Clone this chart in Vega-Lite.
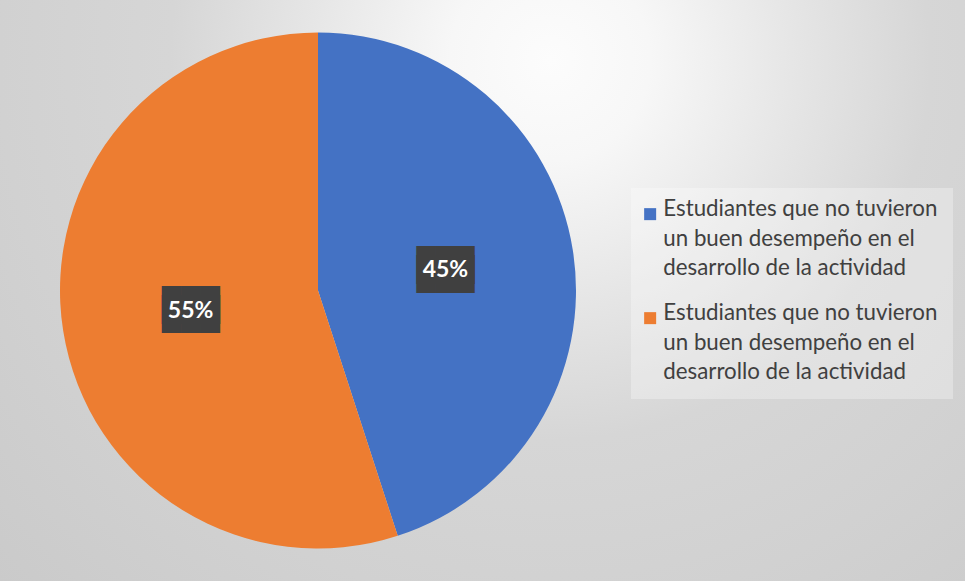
{
  "$schema": "https://vega.github.io/schema/vega-lite/v6.json",
  "autosize": {"type": "pad"},
  "padding": 0,
  "spacing": 0,
  "background": "#d9d9d9",
  "config": {"view": {"stroke": null}},
  "datasets": {
    "fondo": [{"capa": "fondo"}],
    "resultados": [
      {"serie": "A", "categoria": "Estudiantes que no tuvieron un buen desempeño en el desarrollo de la actividad", "proporcion": 0.45},
      {"serie": "B", "categoria": "Estudiantes que no tuvieron un buen desempeño en el desarrollo de la actividad", "proporcion": 0.55}
    ]
  },
  "hconcat": [
    {
      "width": 636,
      "height": 581,
      "layer": [
        {
          "data": {"name": "fondo"},
          "mark": {
            "type": "rect",
            "color": {"gradient": "radial", "x1": 0.865, "y1": 0.1376, "r1": 0, "x2": 0.865, "y2": 0.1376, "r2": 1.195,
              "stops": [{"offset": 0, "color": "#fcfcfc"}, {"offset": 0.132, "color": "#f7f7f7"}, {"offset": 0.329, "color": "#e5e5e5"}, {"offset": 0.5, "color": "#d6d6d6"}, {"offset": 0.724, "color": "#d1d1d1"}, {"offset": 1, "color": "#cacaca"}]}
          },
          "encoding": {}
        },
        {
          "data": {"name": "resultados"},
          "encoding": {
            "theta": {"field": "proporcion", "type": "quantitative", "stack": true},
            "order": {"field": "serie", "type": "nominal"}
          },
          "layer": [
            {
              "mark": {"type": "arc", "outerRadius": 258},
              "encoding": {
                "color": {
                  "field": "serie",
                  "type": "nominal",
                  "scale": {"domain": ["A", "B"], "range": ["#4472C4", "#ED7D31"]},
                  "legend": {
                    "orient": "none",
                    "legendX": 631,
                    "legendY": 188,
                    "title": null,
                    "fillColor": "rgba(255,255,255,0.3)",
                    "padding": 15,
                    "symbolOffset": -7,
                    "symbolType": "square",
                    "symbolSize": 144,
                    "symbolStrokeWidth": 0,
                    "labelFont": "Lato",
                    "labelFontSize": 22.3,
                    "labelColor": "#404040",
                    "labelLimit": 400,
                    "labelOffset": 2,
                    "rowPadding": 22,
                    "labelExpr": "split('Estudiantes que no tuvieron|un buen desempeño en el|desarrollo de la actividad', '|')",
                    "labelBaseline": "alphabetic",
                    "encode": {"labels": {"update": {"lineHeight": {"value": 29.5}, "dy": {"value": 2}}}}
                  }
                }
              }
            },
            {
              "mark": {"type": "text", "radius": 129, "font": "DejaVu Sans Mono", "fontSize": 32, "color": "#404040", "baseline": "middle", "align": "center", "dy": -4.5},
              "encoding": {"text": {"value": "███"}}
            },
            {
              "mark": {"type": "text", "radius": 129, "font": "DejaVu Sans Mono", "fontSize": 32, "color": "#404040", "baseline": "middle", "align": "center", "dy": 4.5},
              "encoding": {"text": {"value": "███"}}
            },
            {
              "mark": {"type": "text", "radius": 129, "font": "Lato", "fontWeight": "bold", "fontSize": 23, "color": "#ffffff", "baseline": "middle", "align": "center"},
              "encoding": {"text": {"field": "proporcion", "type": "quantitative", "format": ".0%"}}
            }
          ]
        }
      ]
    },
    {
      "width": 329,
      "height": 581,
      "data": {"name": "fondo"},
      "mark": {
        "type": "rect",
        "color": {"gradient": "radial", "x1": 0.0688, "y1": 0.103, "r1": 0, "x2": 0.0688, "y2": 0.103, "r2": 1.308,
          "stops": [{"offset": 0, "color": "#fcfcfc"}, {"offset": 0.132, "color": "#f7f7f7"}, {"offset": 0.329, "color": "#e5e5e5"}, {"offset": 0.5, "color": "#d6d6d6"}, {"offset": 0.724, "color": "#d1d1d1"}, {"offset": 1, "color": "#cacaca"}]}
      },
      "encoding": {}
    }
  ]
}
